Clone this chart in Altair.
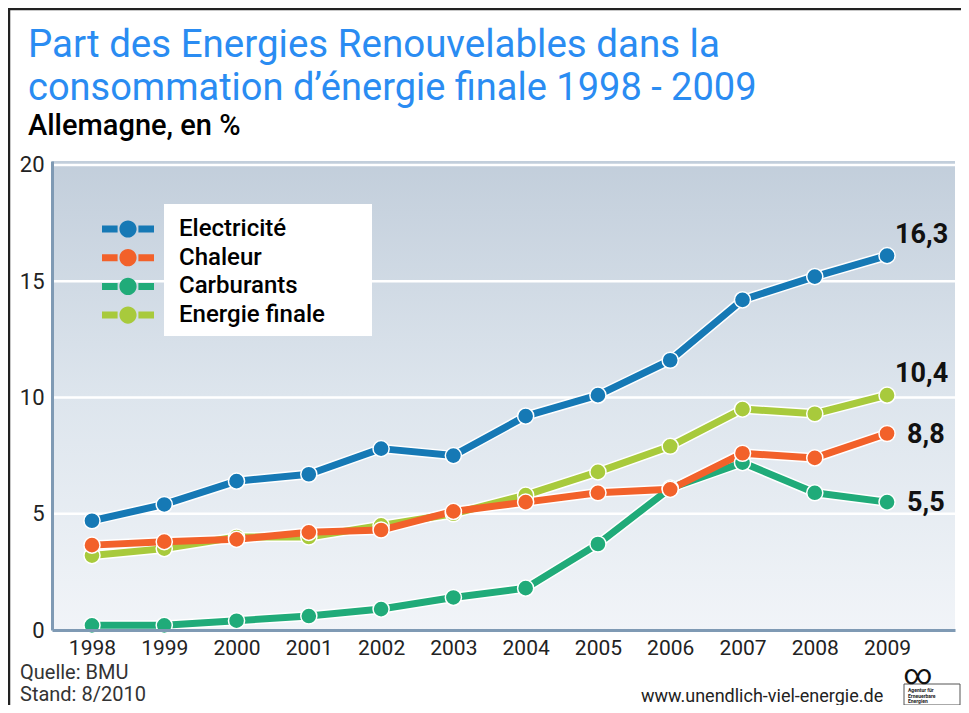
import altair as alt
import pandas as pd

# ---------------- data ----------------
years = list(range(1998, 2010))
series_names = ["Electricité", "Chaleur", "Carburants", "Energie finale"]
series_colors = ["#1679b5", "#f2612a", "#20ab79", "#a8ca3c"]
electricite = [4.7, 5.4, 6.4, 6.7, 7.8, 7.5, 9.2, 10.1, 11.6, 14.2, 15.2, 16.1]
chaleur = [3.65, 3.8, 3.9, 4.2, 4.3, 5.1, 5.5, 5.9, 6.05, 7.6, 7.4, 8.45]
carburants = [0.2, 0.2, 0.4, 0.6, 0.9, 1.4, 1.8, 3.7, 6.1, 7.2, 5.9, 5.5]
energie_finale = [3.2, 3.5, 4.0, 4.0, 4.5, 5.0, 5.8, 6.8, 7.9, 9.5, 9.3, 10.1]
end_labels = ["16,3", "8,8", "5,5", "10,4"]  # Electricité, Chaleur, Carburants, Energie finale
y_ticks = [0, 5, 10, 15, 20]
grid_values = [5, 10, 15, 20]

title_lines = ["Part des Energies Renouvelables dans la",
               "consommation d\u2019énergie finale 1998 - 2009"]
subtitle = "Allemagne, en %"
footer_lines = ["Quelle: BMU", "Stand: 8/2010"]
website = "www.unendlich-viel-energie.de"
logo_lines = ["Agentur für", "Erneuerbare", "Energien"]

# draw order (bottom -> top)
draw_order = ["Energie finale", "Carburants", "Chaleur", "Electricité"]
values = {"Electricité": electricite, "Chaleur": chaleur,
          "Carburants": carburants, "Energie finale": energie_finale}

rows = []
for s in draw_order:
    for y, v in zip(years, values[s]):
        rows.append({"year": y, "series": s, "value": v})
df = pd.DataFrame(rows)

lab_rows = []
for s, lab in zip(["Electricité", "Chaleur", "Carburants", "Energie finale"], end_labels):
    lab_rows.append({"year": years[-1], "series": s, "value": values[s][-1], "label": lab})
df_lab = pd.DataFrame(lab_rows)

W, H = 903, 469
FONT = "Roboto"

x_enc = alt.X("year:Q", scale=alt.Scale(domain=[1997.447, 2009.94], nice=False, zero=False),
              axis=alt.Axis(values=years, format="d", title=None, grid=False, ticks=False,
                            labelFontSize=21, labelPadding=7, labelColor="#222",
                            domainColor="#7f9ab4", domainWidth=3, zindex=1, labelFont=FONT))
y_enc = alt.Y("value:Q", scale=alt.Scale(domain=[0, 20.17], nice=False),
              axis=alt.Axis(values=y_ticks, title=None, grid=False, ticks=False,
                            labelFontSize=22, labelPadding=8, labelColor="#222",
                            domainColor="#7f9ab4", domainWidth=3, zindex=1, labelFont=FONT))

color_scale = alt.Scale(domain=series_names, range=series_colors)
sym_path = ("M-2,-0.27H-0.8V0.27H-2Z M0.8,-0.27H2V0.27H0.8Z "
            "M0.66,0A0.66,0.66 0 1,1 -0.66,0A0.66,0.66 0 1,1 0.66,0Z")
legend = alt.Legend(orient="none", legendX=63, legendY=55, title=None,
                    symbolType=sym_path, symbolSize=676, symbolStrokeWidth=0,
                    labelFont=FONT, labelFontSize=24, labelFontWeight=500,
                    labelColor="black", labelOffset=38, rowPadding=3.7, padding=0,
                    symbolOpacity=1)
color_enc = alt.Color("series:N", scale=color_scale, legend=legend)

dummy = pd.DataFrame({"a": [0]})

bg = alt.Chart(dummy).mark_rect(
    fill=alt.LinearGradient(gradient="linear",
                            stops=[alt.GradientStop(color="#c2cedb", offset=0),
                                   alt.GradientStop(color="#dde5ed", offset=0.5),
                                   alt.GradientStop(color="#f1f4f8", offset=1)],
                            x1=0, x2=0, y1=0, y2=1)
).encode(x=alt.value(0), x2=alt.value(W), y=alt.value(0), y2=alt.value(H))

grid = alt.Chart(pd.DataFrame({"g": grid_values})).mark_rule(
    color="white", strokeWidth=2.5).encode(y=alt.Y("g:Q", scale=alt.Scale(domain=[0, 20.17], nice=False)))

legend_box = alt.Chart(dummy).mark_rect(fill="white").encode(
    x=alt.value(112), x2=alt.value(320), y=alt.value(43), y2=alt.value(175))

base = alt.Chart(df)
halo = base.mark_line(color="white", strokeWidth=10, strokeJoin="round").encode(
    x=x_enc, y=y_enc, detail="series:N", order="year:Q")
lines = base.mark_line(strokeWidth=7, strokeJoin="round").encode(
    x=x_enc, y=y_enc, color=color_enc, order="year:Q")
points = base.mark_circle(size=260, opacity=1, stroke="white", strokeWidth=1.5).encode(
    x=x_enc, y=y_enc, color=color_enc)

lab_top = alt.Chart(df_lab).transform_filter(
    alt.FieldOneOfPredicate(field="series", oneOf=["Electricité", "Energie finale"])
).mark_text(align="left", baseline="middle", dx=8, dy=-21, fontSize=27,
            fontWeight="bold", font=FONT, color="#111").encode(x=x_enc, y=y_enc, text="label:N")
lab_bot = alt.Chart(df_lab).transform_filter(
    alt.FieldOneOfPredicate(field="series", oneOf=["Chaleur", "Carburants"])
).mark_text(align="left", baseline="middle", dx=20, dy=1, fontSize=27,
            fontWeight="bold", font=FONT, color="#111").encode(x=x_enc, y=y_enc, text="label:N")

def txt(s, x, y, size, color, weight="normal", align="left"):
    return alt.Chart(pd.DataFrame({"t": [s]})).mark_text(
        align=align, baseline="alphabetic", fontSize=size, font=FONT,
        fontWeight=weight, color=color).encode(text="t:N", x=alt.value(x), y=alt.value(y))

t1 = txt(title_lines[0], -24, -104, 38.5, "#2a8cf2")
t2 = txt(title_lines[1], -24, -61, 38, "#2a8cf2")
t3 = txt(subtitle, -24, -26, 29, "#000", weight=500)
f1 = txt(footer_lines[0], -32, 518, 20, "#333")
f2 = txt(footer_lines[1], -32, 540, 20, "#333")
w1 = txt(website, 589, 541, 18, "#222")
inf = txt("\u221e", 866, 523, 28, "#111", align="center")
lg = [txt(s, 856, 531 + 5.5 * i, 5, "#222", weight="bold") for i, s in enumerate(logo_lines)]
logo_box = alt.Chart(dummy).mark_rect(fill=None, stroke="#555", strokeWidth=1).encode(
    x=alt.value(852), x2=alt.value(908), y=alt.value(523), y2=alt.value(544))

frame_left = alt.Chart(dummy).mark_rule(color="#222", strokeWidth=2.5).encode(
    x=alt.value(-43), y=alt.value(-153), y2=alt.value(544))
frame_top = alt.Chart(dummy).mark_rule(color="#222", strokeWidth=2.5).encode(
    x=alt.value(-44), x2=alt.value(W + 6), y=alt.value(-152))

chart = alt.layer(
    bg, grid, legend_box, halo, lines, points, lab_top, lab_bot,
    t1, t2, t3, f1, f2, w1, logo_box, inf, *lg, frame_left, frame_top
).properties(
    width=W, height=H,
    autosize=alt.AutoSizeParams(type="none"),
    padding={"left": 44, "top": 153, "right": 6, "bottom": 75},
    background="white"
).configure_view(stroke=None)

chart.save("out.html", embed_options={"renderer": "svg", "actions": False})
